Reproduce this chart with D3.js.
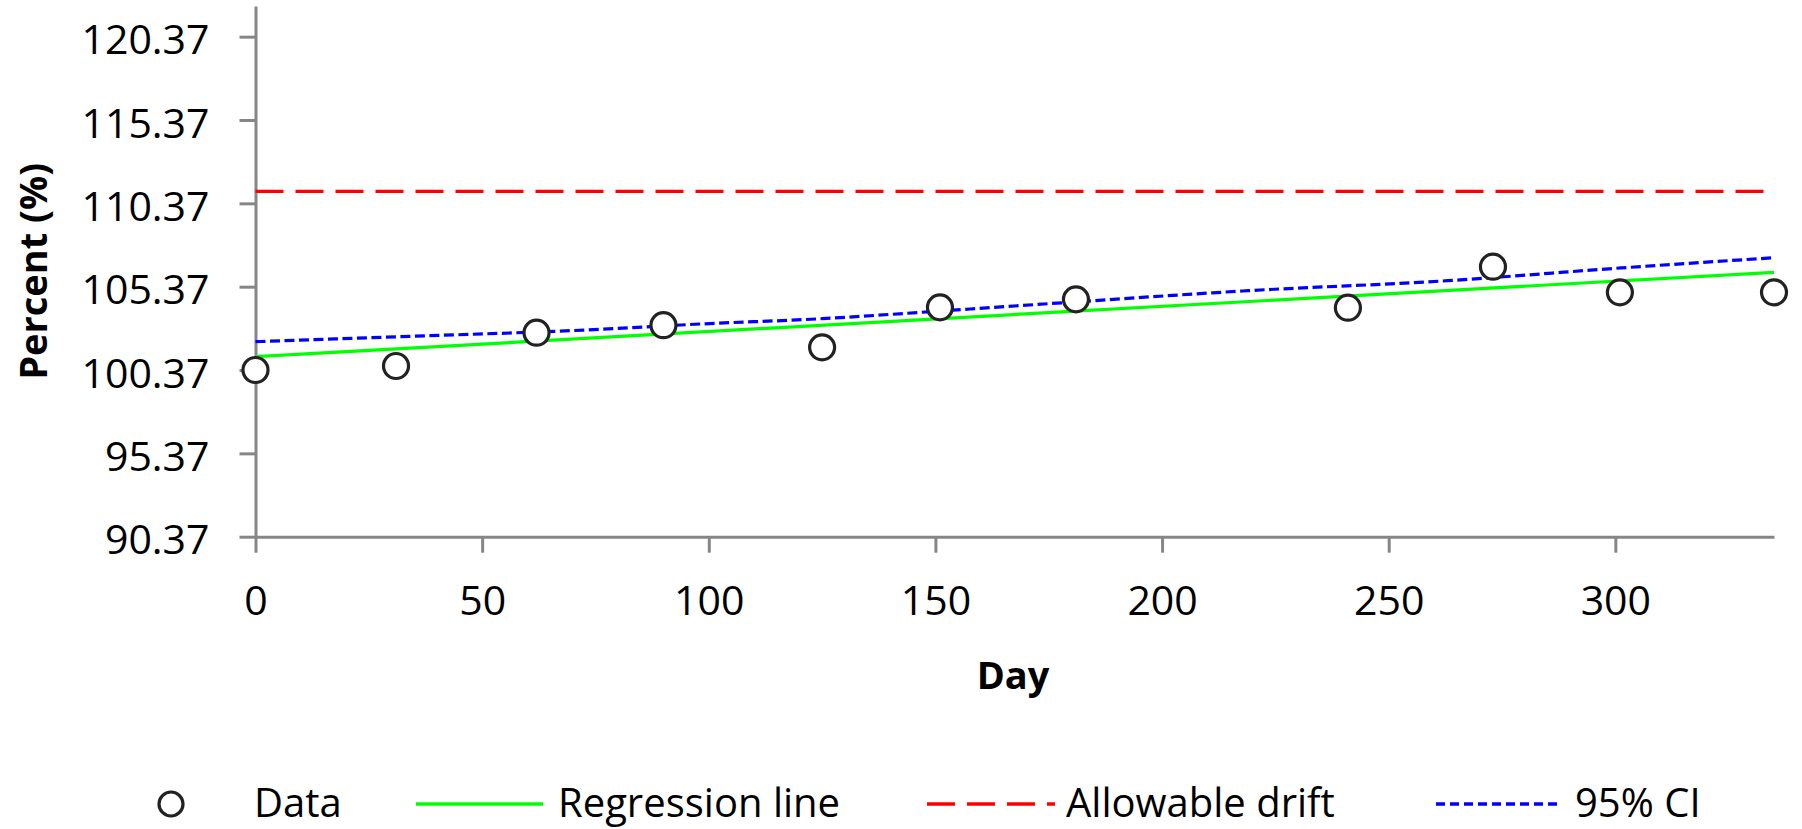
<!DOCTYPE html>
<html>
<head>
<meta charset="utf-8">
<script src="https://cdn.jsdelivr.net/npm/d3@7"></script>
<style>
  html, body { margin: 0; padding: 0; background: #fff; }
  svg { display: block; }
</style>
</head>
<body>
<div id="chart"></div>
<script>
// ---------- Data ----------
const days = [0, 31, 62, 90, 125, 151, 181, 241, 273, 301, 335];
const percent = [100.37, 100.61, 102.61, 103.06, 101.73, 104.13, 104.61, 104.11, 106.57, 105.03, 105.03];

// regression line end points
const regDays = [0, 335];
const regValues = [101.17, 106.23];

// allowable drift (horizontal)
const driftDays = [0, 335];
const driftValues = [111.09, 111.09];

// upper 95% confidence bound
const ciDays = [0, 32, 76, 98, 125, 151, 175, 219, 263, 300, 335];
const ciValues = [102.07, 102.37, 102.81, 103.13, 103.45, 103.91, 104.35, 105.13, 105.73, 106.47, 107.11];

const yTicks = [90.37, 95.37, 100.37, 105.37, 110.37, 115.37, 120.37];
const xTicks = [0, 50, 100, 150, 200, 250, 300];

const legendItems = ["Data", "Regression line", "Allowable drift", "95% CI"];

// ---------- Layout ----------
const width = 1802;
const height = 829;
const font = "'Open Sans', 'Noto Sans', sans-serif";
const axisColor = "#868686";

const svg = d3.select("#chart").append("svg")
  .attr("width", width)
  .attr("height", height)
  .style("background", "#fff");

const x = d3.scaleLinear()
  .domain([0, 335])
  .range([255.5, 1774]);

const y = d3.scaleLinear()
  .domain([90.37, 122.21])
  .range([536.7, 6]);

// ---------- Axes ----------
const xAxis = svg.append("g")
  .attr("transform", `translate(0,${y(90.37)})`)
  .call(
    d3.axisBottom(x)
      .tickValues(xTicks)
      .tickSize(16)
      .tickSizeOuter(0)
      .tickPadding(33)
      .tickFormat(d3.format("d"))
  );

const yAxis = svg.append("g")
  .attr("transform", `translate(${x(0)},0)`)
  .call(
    d3.axisLeft(y)
      .tickValues(yTicks)
      .tickSize(16)
      .tickSizeOuter(0)
      .tickPadding(30)
      .tickFormat(d3.format(".2f"))
  );

[xAxis, yAxis].forEach(g => {
  g.select(".domain").attr("stroke", axisColor).attr("stroke-width", 3);
  g.selectAll(".tick line").attr("stroke", axisColor).attr("stroke-width", 3);
  g.selectAll(".tick text")
    .attr("fill", "#000")
    .style("font-family", font)
    .style("font-size", "41px");
});
yAxis.selectAll(".tick text").attr("dy", "0.42em");

// axis titles
svg.append("text")
  .attr("x", 1013)
  .attr("y", 689)
  .attr("text-anchor", "middle")
  .style("font-family", font)
  .style("font-size", "38px")
  .style("font-weight", "700")
  .text("Day");

svg.append("text")
  .attr("transform", `translate(47,${y.range().reduce((a, b) => (a + b) / 2)}) rotate(-90)`)
  .attr("text-anchor", "middle")
  .style("font-family", font)
  .style("font-size", "38px")
  .style("font-weight", "700")
  .text("Percent (%)");

// ---------- Lines ----------
const line = d3.line()
  .x(d => x(d[0]))
  .y(d => y(d[1]));

const ciLine = d3.line()
  .curve(d3.curveMonotoneX)
  .x(d => x(d[0]))
  .y(d => y(d[1]));

svg.append("path")
  .datum(driftDays.map((d, i) => [d, driftValues[i]]))
  .attr("d", line)
  .attr("fill", "none")
  .attr("stroke", "#ff0000")
  .attr("stroke-width", 3.2)
  .attr("stroke-dasharray", "28,12");

svg.append("path")
  .datum(regDays.map((d, i) => [d, regValues[i]]))
  .attr("d", line)
  .attr("fill", "none")
  .attr("stroke", "#00ff00")
  .attr("stroke-width", 3.2);

svg.append("path")
  .datum(ciDays.map((d, i) => [d, ciValues[i]]))
  .attr("d", ciLine)
  .attr("fill", "none")
  .attr("stroke", "#0000ff")
  .attr("stroke-width", 3.2)
  .attr("stroke-dasharray", "10,4.5");

// ---------- Data points ----------
svg.append("g")
  .selectAll("circle")
  .data(days.map((d, i) => ({ day: d, value: percent[i] })))
  .enter()
  .append("circle")
  .attr("cx", d => x(d.day))
  .attr("cy", d => y(d.value))
  .attr("r", 12.5)
  .attr("fill", "#fff")
  .attr("stroke", "#222")
  .attr("stroke-width", 3.2);

// ---------- Legend ----------
const legendY = 804;
const legend = svg.append("g");

legend.append("circle")
  .attr("cx", 171)
  .attr("cy", legendY)
  .attr("r", 12)
  .attr("fill", "#fff")
  .attr("stroke", "#222")
  .attr("stroke-width", 3.2);

legend.append("line")
  .attr("x1", 416).attr("x2", 543)
  .attr("y1", legendY).attr("y2", legendY)
  .attr("stroke", "#00ff00")
  .attr("stroke-width", 3.5);

legend.append("line")
  .attr("x1", 927).attr("x2", 1055)
  .attr("y1", legendY).attr("y2", legendY)
  .attr("stroke", "#ff0000")
  .attr("stroke-width", 3.5)
  .attr("stroke-dasharray", "28,12");

legend.append("line")
  .attr("x1", 1436).attr("x2", 1558)
  .attr("y1", legendY).attr("y2", legendY)
  .attr("stroke", "#0000ff")
  .attr("stroke-width", 3.5)
  .attr("stroke-dasharray", "9,5");

const legendTextX = [254, 558, 1066, 1575];
legend.selectAll("text.lg")
  .data(legendItems)
  .enter()
  .append("text")
  .attr("class", "lg")
  .attr("x", (d, i) => legendTextX[i])
  .attr("y", legendY + 13)
  .style("font-family", font)
  .style("font-size", "40px")
  .text(d => d);
</script>
</body>
</html>
